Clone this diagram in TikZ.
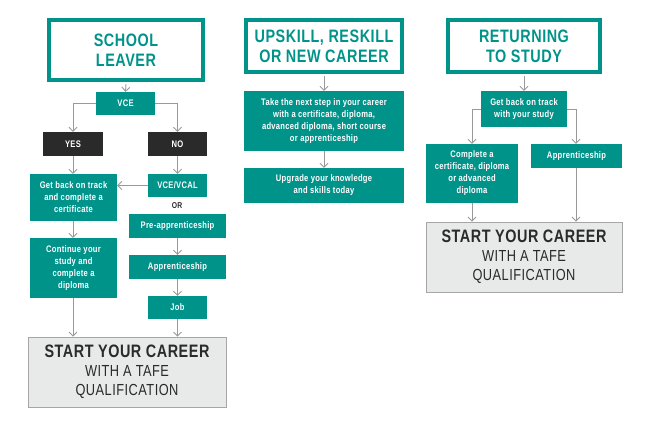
\documentclass[tikz,border=0pt]{standalone}
\usepackage{fontspec}
\setmainfont{Liberation Sans}[FakeStretch=0.8,LetterSpace=3]
\usetikzlibrary{arrows.meta}
\definecolor{teal1}{HTML}{00938A}
\definecolor{lgray}{HTML}{E8E9E9}
\definecolor{dgray}{HTML}{2A2A2A}
\tikzset{
 hdr/.style={draw=teal1,line width=4pt,fill=white,text=teal1,font=\bfseries\fontsize{18}{20}\selectfont,align=center,inner sep=0pt},
 tbox/.style={fill=teal1,text=white,font=\bfseries\fontsize{9.5}{12}\selectfont,align=center,inner sep=0pt},
 kbox/.style={fill=dgray,text=white,font=\bfseries\fontsize{9.5}{12}\selectfont,inner sep=0pt},
 sbox/.style={fill=lgray,draw=gray!70,line width=0.6pt,text=dgray,align=center,inner sep=0pt,font=\fontsize{16}{19}\selectfont},
 con/.style={draw=gray!80,line width=0.9pt,-{Straight Barb[length=4pt,width=8pt]}},
}
\newcommand{\bx}[6]{\node[#1,minimum width=#4-#2,minimum height=#5-#3] (#6) at ({(#2+#4)/2},{(#3+#5)/2})}
\newcommand{\starttxt}{{\bfseries\fontsize{18}{19}\selectfont START YOUR CAREER}\\WITH A TAFE\\QUALIFICATION}
\begin{document}
\begin{tikzpicture}[x=1pt,y=-1pt]
\useasboundingbox (0,0) rectangle (650,430);
\bx{hdr}{49}{20}{203}{80}{h1}{SCHOOL\\LEAVER};
\bx{hdr}{246}{20}{402}{72}{h2}{UPSKILL, RESKILL\\OR NEW CAREER};
\bx{hdr}{448}{20}{600}{72}{h3}{RETURNING\\TO STUDY};
% left
\bx{tbox}{96}{92}{155}{115}{vce}{VCE};
\bx{kbox}{43}{132}{103}{156}{yes}{YES};
\bx{kbox}{148}{132}{207}{156}{no}{NO};
\bx{tbox}{30}{174}{117}{221}{gb}{Get back on track\\and complete a\\certificate};
\bx{tbox}{148}{174}{207}{197}{vcal}{VCE/VCAL};
\node[font=\bfseries\fontsize{8.5}{10}\selectfont,text=dgray] (or) at (177,206) {OR};
\bx{tbox}{129}{214}{226}{238}{pre}{Pre-apprenticeship};
\bx{tbox}{129}{255}{226}{279}{app}{Apprenticeship};
\bx{tbox}{148}{296}{207}{319}{job}{Job};
\bx{tbox}{30}{238}{117}{298}{cont}{Continue your\\study and\\complete a\\diploma};
\bx{sbox}{28}{337}{226}{407}{s1}{\starttxt};
% middle
\bx{tbox}{244}{91}{404}{151}{take}{Take the next step in your career\\with a certificate, diploma,\\advanced diploma, short course\\or apprenticeship};
\bx{tbox}{244}{168}{404}{203}{upg}{Upgrade your knowledge\\and skills today};
% right
\bx{tbox}{481}{91}{567}{127}{gb2}{Get back on track\\with your study};
\bx{tbox}{426}{144}{518}{203}{comp}{Complete a\\certificate, diploma\\or advanced\\diploma};
\bx{tbox}{531}{144}{622}{168}{app2}{Apprenticeship};
\bx{sbox}{426}{222}{622}{292}{s2}{\starttxt};
% connectors
\draw[con] (h1.south) ++(0,2) -- (vce.north);
\draw[con] (vce.west) -| (yes.north);
\draw[con] (vce.east) -| (no.north);
\draw[con] (yes) -- (yes|-gb.north);
\draw[con] (no) -- (vcal.north);
\draw[con] (vcal.west) -- (vcal.west-|gb.east);
\draw[con] (gb.south-|yes) -- (yes|-cont.north);
\draw[con] (pre) -- (app.north);
\draw[con] (app) -- (job.north);
\draw[con] (cont.south-|yes) -- (yes|-s1.north);
\draw[con] (job) -- (job|-s1.north);
\draw[con] (h2.south) ++(0,2) -- (take.north);
\draw[con] (take) -- (upg.north);
\draw[con] (h3.south) ++(0,2) -- (gb2.north);
\coordinate (cl) at (472,109);
\coordinate (cr) at (576,109);
\draw[con] (gb2.west|-cl) -- (cl) -- (cl|-comp.north);
\draw[con] (gb2.east|-cr) -- (cr) -- (cr|-app2.north);
\draw[con] (comp.south-|cl) -- (cl|-s2.north);
\draw[con] (app2.south-|cr) -- (cr|-s2.north);
\end{tikzpicture}
\end{document}
